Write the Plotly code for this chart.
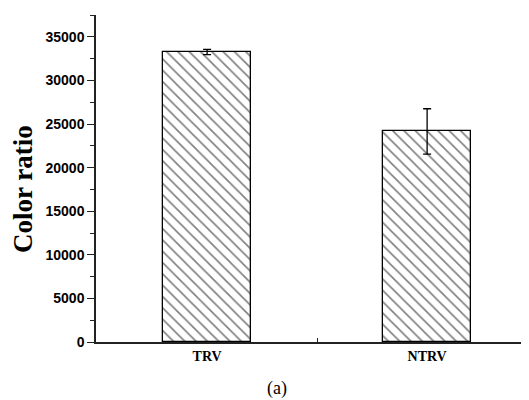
import plotly.graph_objects as go

categories = ["TRV", "NTRV"]
values = [33250, 24150]
errors = [300, 2600]
y_tickvals = [0, 5000, 10000, 15000, 20000, 25000, 30000, 35000]
y_ticktext = ["0", "5000", "10000", "15000", "20000", "25000", "30000", "35000"]

xpos = list(range(len(categories)))

# page body has an 8px default margin; size the figure to fit the 529x400 window
fig = go.Figure()
fig.add_trace(go.Bar(
    x=xpos, y=values, width=0.4,
    marker=dict(color="white",
                line=dict(color="black", width=1.3),
                pattern=dict(shape="\\", size=8, solidity=0.2,
                             fgcolor="black", bgcolor="white")),
    error_y=dict(type="data", array=errors, visible=True,
                 color="black", thickness=1.3, width=4),
    showlegend=False,
))

fig.update_layout(
    width=521, height=392,
    margin=dict(l=88, r=0, t=7, b=58),
    plot_bgcolor="white", paper_bgcolor="white",
    bargap=0,
    xaxis=dict(
        range=[-0.505, 1.463], automargin=False,
        tickmode="array", tickvals=xpos, ticktext=categories,
        ticks="", showgrid=False, zeroline=False,
        showline=True, linecolor="#222", linewidth=1.5,
        tickfont=dict(family="Liberation Serif", size=14, color="black", weight="bold"),
        minor=dict(tickmode="array", tickvals=[0.5], ticks="inside", ticklen=4,
                   tickcolor="#222", tickwidth=1, showgrid=False),
    ),
    yaxis=dict(
        range=[0, 37500], automargin=False,
        tickmode="array", tickvals=y_tickvals, ticktext=y_ticktext,
        ticks="outside", ticklen=7, tickwidth=1.2, tickcolor="#222",
        showgrid=False, zeroline=False,
        showline=True, linecolor="#222", linewidth=1.5,
        tickfont=dict(family="Liberation Sans", size=14, color="black", weight="bold"),
        minor=dict(dtick=2500, ticks="outside", ticklen=4, tickcolor="#222",
                   tickwidth=1, showgrid=False),
    ),
    annotations=[
        dict(text="Color ratio", xref="paper", yref="paper",
             x=-73 / 433, y=(342 - 189) / 327, xanchor="center", yanchor="middle",
             textangle=-90, showarrow=False,
             font=dict(family="Liberation Serif", size=27, color="black", weight="bold")),
        dict(text="(a)", xref="paper", yref="paper",
             x=(277 - 96) / 433, y=-(388 - 342) / 327, xanchor="center", yanchor="middle",
             showarrow=False,
             font=dict(family="Liberation Serif", size=18, color="black")),
    ],
)

fig.write_html("out.html")
